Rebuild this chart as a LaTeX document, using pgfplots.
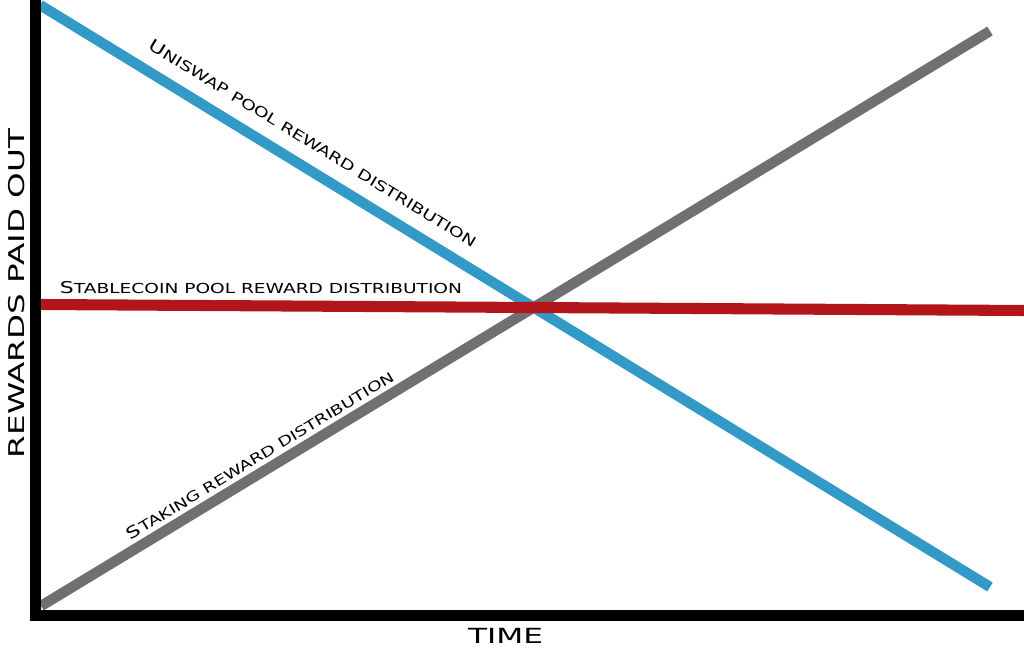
\documentclass[border=0pt]{standalone}
\usepackage{pgfplots}
\pgfplotsset{compat=1.18}
\usepackage{fontspec}
\usepackage{graphicx}
\newfontfamily\wide[FakeStretch=1.5]{DejaVu Sans}
\newfontfamily\widelab[FakeStretch=1.35]{DejaVu Sans}
\definecolor{cblue}{RGB}{51,153,198}
\definecolor{cred}{RGB}{178,22,26}
\definecolor{cgray}{RGB}{112,112,112}
\newcommand\lab[3]{\resizebox{#1}{!}{\widelab{\fontsize{13}{13}\selectfont #2}{\fontsize{11}{11}\selectfont #3}}}
\begin{document}
\begin{tikzpicture}
\useasboundingbox (0,0) rectangle (768pt,489.75pt);
\begin{axis}[
  at={(26.625pt,28.125pt)}, anchor=south west,
  scale only axis, width=741.375pt, height=461.625pt,
  xmin=35.5, xmax=1024, ymin=37.5, ymax=653,
  axis x line=bottom, axis y line=left,
  axis line style={-, line width=7.8pt, line cap=rect, black},
  xtick=\empty, ytick=\empty,
  clip=false, axis on top]
\addplot[cblue, line width=7.8pt] coordinates {(40,648) (990,66)};
\addplot[cgray, line width=7.8pt] coordinates {(41,47) (990,622)};
\addplot[cred, line width=8.3pt] coordinates {(40,348.5) (1024,342.5)};
\node[rotate=-31.5] at (axis cs:313,510) {\lab{285.75pt}{U}{NISWAP POOL REWARD DISTRIBUTION}};
\node at (axis cs:261,365) {\lab{301.5pt}{S}{TABLECOIN POOL REWARD DISTRIBUTION}};
\node[rotate=31.2] at (axis cs:260,198) {\lab{231.75pt}{S}{TAKING REWARD DISTRIBUTION}};
\node[rotate=90] at (axis cs:17,359.5) {\resizebox{246.75pt}{!}{\wide REWARDS PAID OUT}};
\node at (axis cs:505.5,17.5) {\resizebox{56.25pt}{!}{\wide TIME}};
\end{axis}
\end{tikzpicture}
\end{document}
